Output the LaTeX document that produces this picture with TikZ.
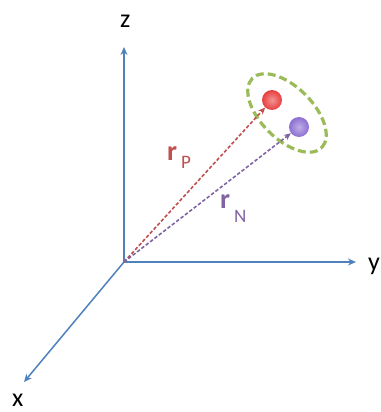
\documentclass[tikz,border=0pt]{standalone}
\usepackage{fontspec}
\setmainfont{Carlito}
\usetikzlibrary{arrows.meta,shapes.geometric}
\definecolor{axis}{RGB}{79,129,189}
\definecolor{rdark}{RGB}{192,80,77}
\definecolor{pdark}{RGB}{128,100,162}
\definecolor{grn}{RGB}{155,187,89}
\definecolor{rdot}{RGB}{232,62,62}
\definecolor{pdot}{RGB}{140,110,210}
\begin{document}
\begin{tikzpicture}[x=1pt,y=-1pt,
  axisline/.style={draw=axis,line width=1.5pt,-{Stealth[length=8pt,width=7pt]}},
  vec/.style={line width=1.6pt,dash pattern=on 3.5pt off 2pt,-{Stealth[length=7pt,width=6pt]}},
  lbl/.style={font=\fontsize{26}{28}\selectfont,inner sep=0pt,anchor=base west},
  vlbl/.style={inner sep=0pt,anchor=base west,font=\fontsize{28}{30}\selectfont\bfseries},
  sub/.style={inner sep=0pt,anchor=base west,font=\fontsize{19}{21}\selectfont},
  dot/.style={circle,minimum size=20pt,inner sep=0pt}]
\useasboundingbox (0,0) rectangle (380,412);
\coordinate (O) at (124,262);
\coordinate (Z) at (124,47);
\coordinate (Y) at (356,262);
\coordinate (X) at (24,382);
\draw[axisline] (O) -- (Z);
\draw[axisline] (O) -- (Y);
\draw[axisline] (O) -- (X);
\node[lbl] (zl) at (120,28) {z};
\node[lbl] (yl) at (368,270) {y};
\node[lbl] (xl) at (12,406) {x};
\node[draw=grn,line width=3.2pt,dash pattern=on 8pt off 4pt,ellipse,minimum width=98pt,minimum height=52pt,rotate=-45,inner sep=0pt] (ell) at (287,113) {};
\node[dot,inner color=rdot!55!white,outer color=rdot] (P) at (272,100) {};
\node[dot,inner color=pdot!55!white,outer color=pdot] (N) at (299,127) {};
\draw[vec,draw=rdark] (O) -- (P);
\draw[vec,draw=pdark] (O) -- (N);
\node[vlbl,text=rdark] (rp) at (167,160) {r};
\node[sub,text=rdark] (rps) at (181,168) {P};
\node[vlbl,text=pdark] (rn) at (220,208) {r};
\node[sub,text=pdark] (rns) at (234,222) {N};
\end{tikzpicture}
\end{document}
